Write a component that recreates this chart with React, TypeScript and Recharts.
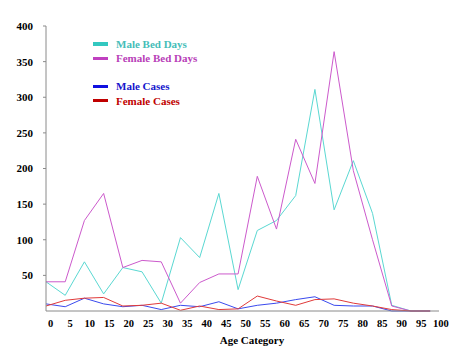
import { LineChart, Line, XAxis, YAxis } from "recharts";

const ages = [0, 5, 10, 15, 20, 25, 30, 35, 40, 45, 50, 55, 60, 65, 70, 75, 80, 85, 90, 95, 100];
const maleBedDays = [41, 22, 69, 24, 61, 55, 11, 103, 75, 165, 30, 113, 127, 162, 311, 142, 211, 137, 8, 0, 0];
const femaleBedDays = [41, 41, 127, 165, 61, 71, 69, 11, 40, 52, 52, 189, 115, 241, 179, 364, 197, 100, 7, 0, 0];
const maleCases = [10, 6, 18, 10, 6, 8, 2, 8, 6, 13, 3, 8, 11, 16, 20, 8, 7, 7, 0, 0, 0];
const femaleCases = [7, 15, 18, 19, 7, 8, 11, 1, 7, 2, 3, 21, 14, 8, 16, 17, 11, 7, 2, 0, 0];
const yTicks = [50, 100, 150, 200, 250, 300, 350, 400];

const data = ages.map((age, i) => ({
  age,
  maleBedDays: maleBedDays[i],
  femaleBedDays: femaleBedDays[i],
  maleCases: maleCases[i],
  femaleCases: femaleCases[i],
}));

const SERIF = "'Liberation Serif', 'DejaVu Serif', serif";

const series = [
  { key: "maleBedDays", name: "Male Bed Days", line: "#5AD8D2", mark: "#33C8C0", text: "#45BDB8" },
  { key: "femaleBedDays", name: "Female Bed Days", line: "#CC5ACC", mark: "#C040C0", text: "#B840B8" },
  { key: "maleCases", name: "Male Cases", line: "#3A4AEE", mark: "#1010E0", text: "#1515CC" },
  { key: "femaleCases", name: "Female Cases", line: "#E03A3A", mark: "#C00000", text: "#C00000" },
];

// labels drift a little right of the data points, as in the original
function AgeTick({ x, y, payload }: { x?: number; y?: number; payload?: { value: number } }) {
  const v = payload?.value ?? 0;
  return (
    <text
      x={(x ?? 0) + 4.7 + v * 0.06}
      y={(y ?? 0) + 8}
      textAnchor="middle"
      fontFamily={SERIF}
      fontWeight="bold"
      fontSize={10.5}
      fill="#000"
    >
      {v}
    </text>
  );
}

function LegendBox() {
  return (
    <div
      style={{
        position: "absolute",
        left: 93,
        top: 37,
        fontFamily: SERIF,
        fontWeight: "bold",
        fontSize: 11,
      }}
    >
      {series.map((s, i) => (
        <div
          key={s.key}
          style={{ display: "flex", alignItems: "center", height: 14.3, marginBottom: i === 1 ? 13.7 : 0 }}
        >
          <span style={{ width: 15, height: 3.5, background: s.mark, marginRight: 8 }} />
          <span style={{ color: s.text }}>{s.name}</span>
        </div>
      ))}
    </div>
  );
}

export default function App() {
  return (
    <div style={{ position: "absolute", left: 0, top: 0, width: 474, height: 355, background: "#fff" }}>
      <LineChart width={474} height={355} data={data} margin={{ top: 26, right: 35, bottom: 20, left: 6 }}>
        <XAxis
          dataKey="age"
          type="number"
          domain={[0, 102.3]}
          ticks={ages}
          interval={0}
          tick={<AgeTick />}
          tickLine={false}
          axisLine={{ stroke: "#8a8a8a" }}
          height={24}
        />
        <YAxis
          domain={[0, 400]}
          ticks={yTicks}
          width={40}
          tickSize={3}
          tickMargin={10}
          tickLine={{ stroke: "#8a8a8a" }}
          axisLine={{ stroke: "#8a8a8a" }}
          tick={{ fontFamily: SERIF, fontWeight: "bold", fontSize: 11, fill: "#000" }}
        />
        {series.map((s) => (
          <Line
            key={s.key}
            dataKey={s.key}
            name={s.name}
            type="linear"
            stroke={s.line}
            strokeWidth={1}
            dot={false}
            isAnimationActive={false}
          />
        ))}
      </LineChart>
      <LegendBox />
      <div
        style={{
          position: "absolute",
          left: 0,
          width: 504,
          top: 334,
          textAlign: "center",
          fontFamily: SERIF,
          fontWeight: "bold",
          fontSize: 11,
          color: "#000",
        }}
      >
        Age Category
      </div>
    </div>
  );
}
